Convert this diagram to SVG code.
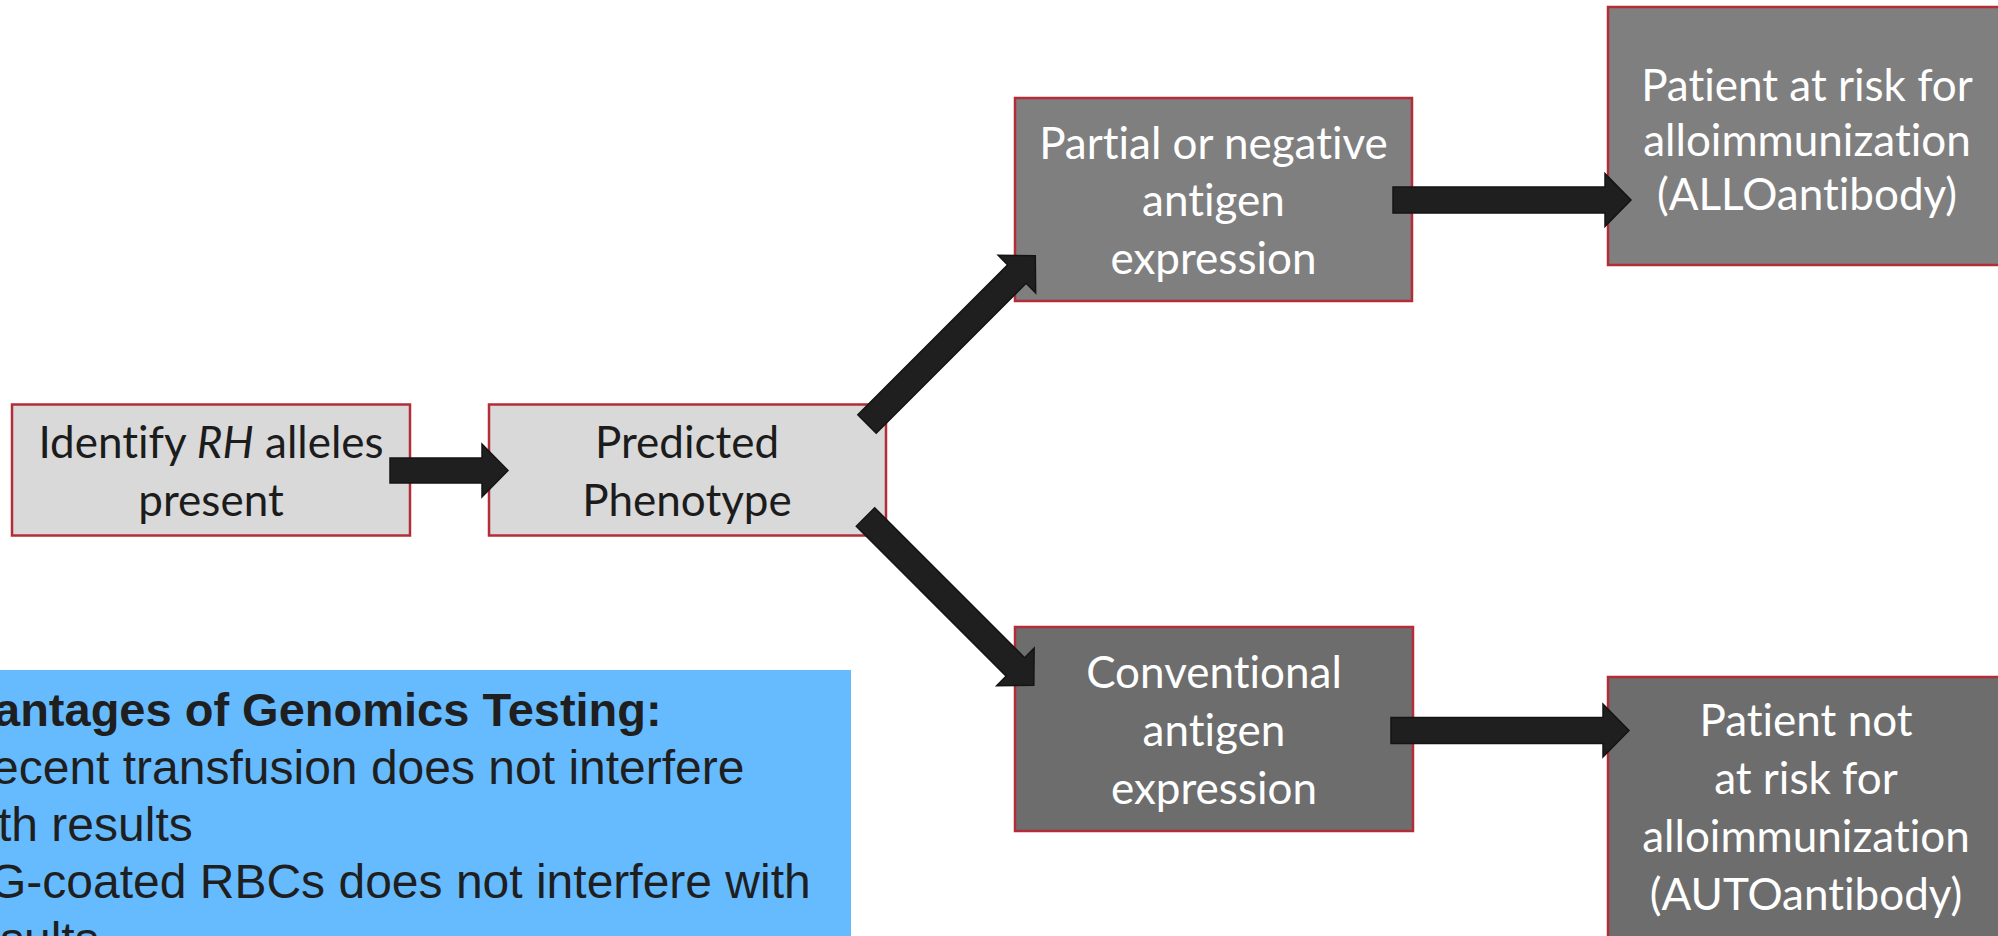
<svg xmlns="http://www.w3.org/2000/svg" width="1998" height="936" viewBox="0 0 1998 936">
  <style>
    .box { stroke: #b22d38; stroke-width: 2.5; }
    .light { fill: #d9d9d9; }
    .mid { fill: #7f7f7f; }
    .dark { fill: #6d6d6d; }
    .lbl { font-family: Lato, "Open Sans", sans-serif; font-size: 44px; text-anchor: middle; font-variant-ligatures: none; font-feature-settings: "liga" 0, "clig" 0; }
    .lbl-dark { fill: #1c1c1c; }
    .lbl-white { fill: #ffffff; }
    .arrow { fill: #1f1f1f; stroke: #141414; stroke-width: 1.5; stroke-linejoin: miter; }
    .note { font-family: "Liberation Sans", Arial, sans-serif; font-size: 48px; fill: #1f1f1f; }
    .note-head { font-weight: bold; font-size: 47px; }
  </style>
  <defs>
    <!-- block arrow of length 238, tail centre at the origin, pointing along +x -->
    <path id="long-arrow" d="M0,-13 H212 V-26.5 L238,0 L212,26.5 V13 H0 Z"/>
  </defs>

  <rect x="0" y="0" width="1998" height="936" fill="#ffffff"/>

  <!-- note panel -->
  <g id="advantages-note">
    <rect x="0" y="670" width="851" height="266" fill="#66bbff"/>
    <text class="note note-head" x="-6" y="726">antages of Genomics Testing:</text>
    <text class="note" x="-8" y="784">ecent transfusion does not interfere</text>
    <text class="note" x="-2" y="841">th results</text>
    <text class="note" x="-11" y="898">G-coated RBCs does not interfere with</text>
    <text class="note" x="0" y="956">sults</text>
  </g>

  <g id="identify-alleles">
    <rect class="box light" x="12" y="404.5" width="398" height="131"/>
    <text class="lbl lbl-dark" x="211" y="458">Identify <tspan font-style="italic">RH</tspan> alleles</text>
    <text class="lbl lbl-dark" x="211" y="516">present</text>
  </g>

  <g id="predicted-phenotype">
    <rect class="box light" x="489" y="404.5" width="397" height="131"/>
    <text class="lbl lbl-dark" x="687" y="458">Predicted</text>
    <text class="lbl lbl-dark" x="687" y="516">Phenotype</text>
  </g>

  <g id="partial-expression">
    <rect class="box mid" x="1015" y="98" width="397" height="203"/>
    <text class="lbl lbl-white" x="1213.5" y="159">Partial or negative</text>
    <text class="lbl lbl-white" x="1213.5" y="216">antigen</text>
    <text class="lbl lbl-white" x="1213.5" y="274">expression</text>
  </g>

  <g id="at-risk">
    <rect class="box mid" x="1608" y="7" width="398" height="258"/>
    <text class="lbl lbl-white" x="1807" y="101" font-size="42.5">Patient at risk for</text>
    <text class="lbl lbl-white" x="1807" y="156" font-size="42.5">alloimmunization</text>
    <text class="lbl lbl-white" x="1807" y="210" font-size="42.5">(ALLOantibody)</text>
  </g>

  <g id="conventional-expression">
    <rect class="box dark" x="1015" y="627" width="398" height="204"/>
    <text class="lbl lbl-white" x="1214" y="688">Conventional</text>
    <text class="lbl lbl-white" x="1214" y="746">antigen</text>
    <text class="lbl lbl-white" x="1214" y="804">expression</text>
  </g>

  <g id="not-at-risk">
    <rect class="box dark" x="1608" y="677" width="398" height="262"/>
    <text class="lbl lbl-white" x="1806" y="736">Patient not</text>
    <text class="lbl lbl-white" x="1806" y="794">at risk for</text>
    <text class="lbl lbl-white" x="1806" y="852">alloimmunization</text>
    <text class="lbl lbl-white" x="1806" y="910">(AUTOantibody)</text>
  </g>

  <g id="connectors">
    <path class="arrow" d="M390,458 H482 V444 L508,470.5 L482,497 V483 H390 Z"/>
    <use class="arrow" href="#long-arrow" transform="translate(867 424) rotate(-45)"/>
    <use class="arrow" href="#long-arrow" transform="translate(865.5 517) rotate(45)"/>
    <use class="arrow" href="#long-arrow" transform="translate(1393 200)"/>
    <use class="arrow" href="#long-arrow" transform="translate(1391 730.5)"/>
  </g>
</svg>
